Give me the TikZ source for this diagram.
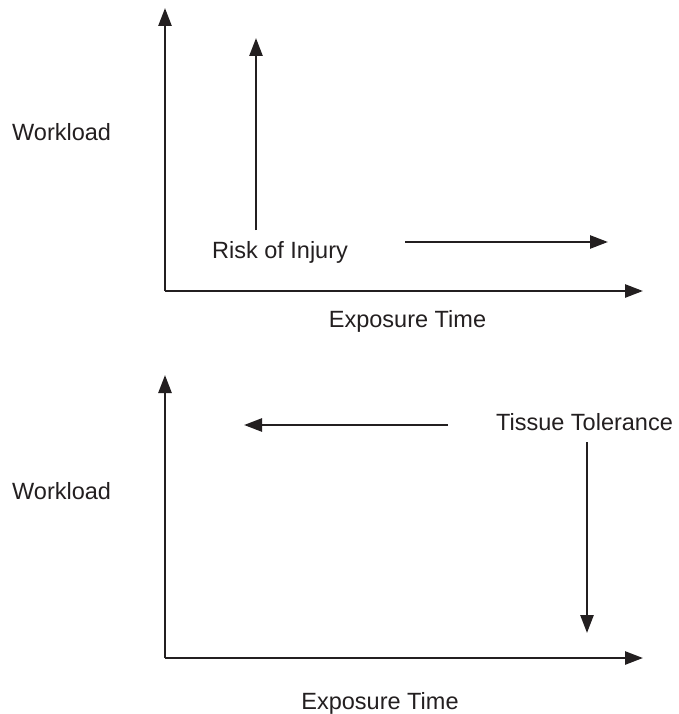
\documentclass[tikz,border=0pt]{standalone}
\usepackage{fontspec}
\setmainfont{Liberation Sans}
\usetikzlibrary{arrows.meta}
\definecolor{ink}{HTML}{231F20}
\begin{document}
\begin{tikzpicture}[x=1pt,y=-1pt,
  axis/.style={draw=ink,line width=2.6pt,-{Triangle[length=18pt,width=13pt]}},
  lbl/.style={inner sep=0pt,text=ink,font=\fontsize{23.5pt}{28pt}\selectfont}]
\useasboundingbox[fill=white] (0,0) rectangle (678,714);
% top chart
\coordinate (o1) at (165,291);
\coordinate (y1) at (165,8);
\coordinate (x1) at (643,291);
\draw[axis] (o1) -- (y1);
\draw[axis] (o1) -- (x1);
\coordinate (r1) at (256,230);
\coordinate (r2) at (256,38);
\draw[axis] (r1) -- (r2);
\coordinate (h1) at (405,242);
\coordinate (h2) at (608,242);
\draw[axis] (h1) -- (h2);
\node[lbl,anchor=base west] (wl1) at (12,141) {Workload};
\node[lbl,anchor=base] (risk) at (280,258) {Risk of Injury};
\node[lbl,anchor=base] (et1) at (407.5,327) {Exposure Time};
% bottom chart
\coordinate (o2) at (165,658);
\coordinate (y2) at (165,375);
\coordinate (x2) at (643,658);
\draw[axis] (o2) -- (y2);
\draw[axis] (o2) -- (x2);
\coordinate (l1) at (448,425);
\coordinate (l2) at (244,425);
\draw[axis] (l1) -- (l2);
\coordinate (d1) at (587,442);
\coordinate (d2) at (587,633);
\draw[axis] (d1) -- (d2);
\node[lbl,anchor=base] (tt) at (584.5,430) {Tissue Tolerance};
\node[lbl,anchor=base west] (wl2) at (12,499) {Workload};
\node[lbl,anchor=base] (et2) at (380,709) {Exposure Time};
\end{tikzpicture}
\end{document}
